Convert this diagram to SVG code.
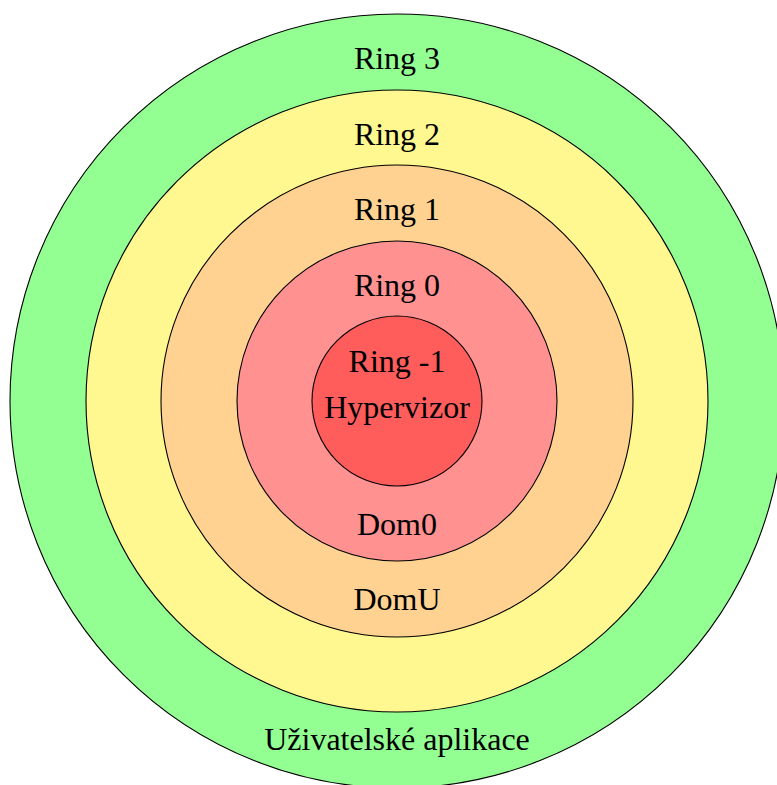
<svg xmlns="http://www.w3.org/2000/svg" width="777" height="785" viewBox="0 0 777 785">
<style>
.ring{stroke:#000;stroke-width:1.1}
text{font-family:"Liberation Serif","DejaVu Serif",serif;font-size:32px;fill:#000;text-anchor:middle}
</style>
<rect width="777" height="785" fill="#fff"/>
<g id="ring3"><circle class="ring" cx="397" cy="401" r="387" fill="#93FF93"/><text x="397" y="69">Ring 3</text><text x="397" y="750">Uživatelské aplikace</text></g>
<g id="ring2"><circle class="ring" cx="397" cy="401" r="311" fill="#FFF78F"/><text x="397" y="145">Ring 2</text></g>
<g id="ring1"><circle class="ring" cx="397" cy="401" r="236" fill="#FFD291"/><text x="397" y="220">Ring 1</text><text x="397" y="610">DomU</text></g>
<g id="ring0"><circle class="ring" cx="397" cy="401" r="160" fill="#FF9191"/><text x="397" y="296">Ring 0</text><text x="397" y="535">Dom0</text></g>
<g id="ringm1"><circle class="ring" cx="397" cy="401" r="85" fill="#FF5C5C"/><text x="397" y="372">Ring -1</text><text x="397" y="418">Hypervizor</text></g>
<g id="connectors"></g>
</svg>
